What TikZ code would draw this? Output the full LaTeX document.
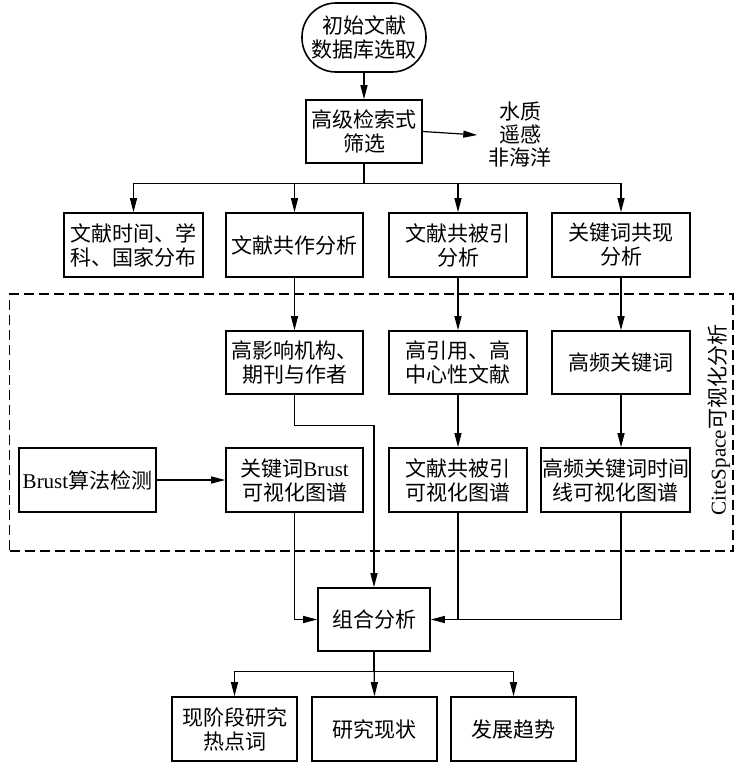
\documentclass[tikz,border=0pt]{standalone}
\usepackage{fontspec}
\setmainfont{Liberation Serif}
\newfontfamily\cjk{Noto Sans CJK SC}
\usetikzlibrary{arrows.meta}
\tikzset{
  box/.style={draw, line width=1.6pt, align=center, inner sep=0pt,
    font=\cjk\fontsize{21}{24}\selectfont, minimum height=64pt},
  con/.style={line width=1.2pt},
  arr/.style={con, -{Triangle[length=14pt,width=7pt]}},
  frame/.style={draw, dashed, dash pattern=on 10pt off 5pt, line width=1.4pt, inner sep=0pt}
}
\begin{document}
\begin{tikzpicture}[x=1pt,y=-1pt]
\useasboundingbox (0,0) rectangle (735,768);
% frame
\node[frame, minimum width=723.5pt, minimum height=257pt] (frm) at (371.25,422.5) {};
\node[rotate=90, font=\fontsize{21}{24}\selectfont, inner sep=0pt] (lbl) at (719,420) {CiteSpace{\cjk 可视化分析}};
% top
\node[box, minimum width=124pt, minimum height=69pt, rounded corners=34pt] (start) at (364,37.5) {初始文献\\数据库选取};
\node[box, minimum width=116pt, minimum height=63pt] (filter) at (364,131.5) {高级检索式\\筛选};
\node[align=center, inner sep=11pt, font=\cjk\fontsize{21}{23}\selectfont] (side) at (520,135) {水质\\遥感\\非海洋};
% row 1
\node[box, minimum width=139pt] (r1a) at (133.5,245) {文献时间、学\\科、国家分布};
\node[box, minimum width=137pt] (r1b) at (294.5,245) {文献共作分析};
\node[box, minimum width=138pt] (r1c) at (458,245) {文献共被引\\分析};
\node[box, minimum width=138pt] (r1d) at (621,245) {关键词共现\\分析};
% row 2
\node[box, minimum width=137pt, minimum height=63pt] (r2b) at (294.5,362.5) {高影响机构、\\期刊与作者};
\node[box, minimum width=138pt, minimum height=63pt] (r2c) at (458,362.5) {高引用、高\\中心性文献};
\node[box, minimum width=138pt, minimum height=63pt] (r2d) at (621,362.5) {高频关键词};
% row 3
\node[box, minimum width=137pt] (r3a) at (87.5,480) {{\rmfamily Brust}算法检测};
\node[box, minimum width=137pt] (r3b) at (294.5,480) {关键词{\rmfamily Brust}\\可视化图谱};
\node[box, minimum width=138pt] (r3c) at (458,480) {文献共被引\\可视化图谱};
\node[box, minimum width=149pt] (r3d) at (615.5,480) {高频关键词时间\\线可视化图谱};
% combine
\node[box, minimum width=112pt, minimum height=63pt] (comb) at (374,619.5) {组合分析};
% bottom
\node[box, minimum width=125pt] (b1) at (234.5,729) {现阶段研究\\热点词};
\node[box, minimum width=125pt] (b2) at (374.5,729) {研究现状};
\node[box, minimum width=125pt] (b3) at (513.5,729) {发展趋势};
% connectors
\draw[arr] (start) -- (filter);
\draw[arr] (filter.east) -- (side.west);
\draw[con] (filter.south) -- ++(0,20) coordinate (j1);
\draw[arr] (j1) -| (r1a.north);
\draw[arr] (j1) -| (r1b.north);
\draw[arr] (j1) -| (r1c.north);
\draw[arr] (j1) -| (r1d.north);
\draw[arr] (r1b) -- (r2b);
\draw[arr] (r1c) -- (r2c);
\draw[arr] (r1d) -- (r2d);
\draw[arr] (r2c) -- (r3c);
\draw[arr] (r2d.south) -- (r2d.south |- r3d.north);
\draw[arr] (r3a) -- (r3b);
\draw[arr] (r2b.south) -- ++(0,31) -| (comb.north);
\draw[arr] (r3b.south) |- (comb.west);
\draw[con] (r3c.south) -- (r3c.south |- comb.east);
\draw[arr] (r2d.south |- r3d.south) |- (comb.east);
\draw[con] (comb.south) -- ++(0,20) coordinate (j2);
\draw[arr] (j2) -| (b1.north);
\draw[arr] (comb.south) -- (b2.north);
\draw[arr] (j2) -| (b3.north);
\end{tikzpicture}
\end{document}
